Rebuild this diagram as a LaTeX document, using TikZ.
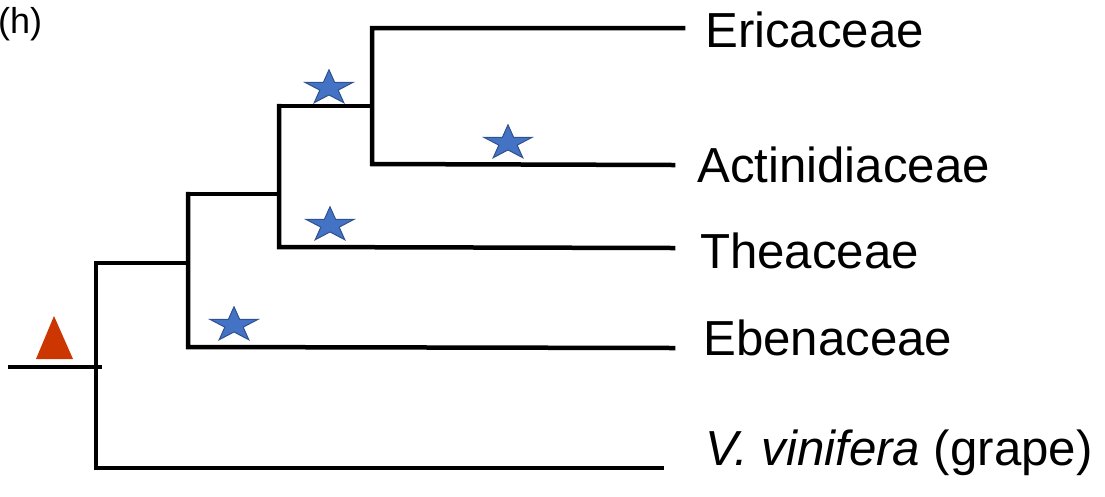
\documentclass[tikz,border=0pt]{standalone}
\usepackage{fontspec}
\setmainfont{Liberation Sans}
\definecolor{branchblack}{RGB}{0,0,0}
\definecolor{starfill}{RGB}{68,114,196}
\definecolor{starline}{RGB}{47,82,143}
\definecolor{trired}{RGB}{204,54,0}
\begin{document}
\begin{tikzpicture}[x=1pt,y=-1pt,
  branch/.style={draw=branchblack,line width=4.5pt,line cap=rect,line join=miter},
  taxon/.style={anchor=base west,inner sep=0pt,font=\fontsize{49.2}{58}\selectfont},
  panel/.style={anchor=base west,inner sep=0pt,font=\fontsize{36}{42}\selectfont},
  pics/dupstar/.style={code={
    \filldraw[fill=starfill,draw=starline,line width=1pt,line join=miter]
      (-90:1) \foreach \a/\r in {1/0.382,2/1,3/0.382,4/1,5/0.382,6/1,7/0.382,8/1,9/0.382}
      {-- (-90+\a*36:\r)} -- cycle;}}]
\useasboundingbox (0,0) rectangle (1105,496);

% panel label
\node[panel] (plabel) at (-2,33) {(h)};

% internal nodes of the tree
\coordinate (stem)  at (10,367);
\coordinate (r)     at (96,367);
\coordinate (rtop)  at (96,263);
\coordinate (rbot)  at (96,468);
\coordinate (n1top) at (188,194);
\coordinate (n1mid) at (188,263);
\coordinate (n1bot) at (188,347);
\coordinate (n2top) at (279,106);
\coordinate (n2mid) at (279,194);
\coordinate (n2bot) at (279,247);
\coordinate (n3top) at (372,28);
\coordinate (n3mid) at (372,106);
\coordinate (n3bot) at (372,164);

% tips
\coordinate (tEri) at (683,28);
\coordinate (tAct) at (673,165);
\coordinate (tThe) at (673,248);
\coordinate (tEbe) at (673,348);
\coordinate (tVit) at (662,468);

% taxon labels
\node[taxon] (Eri) at (705,47)  {Ericaceae};
\node[taxon] (Act) at (697,182) {Actinidiaceae};
\node[taxon] (The) at (700,268) {Theaceae};
\node[taxon] (Ebe) at (703,355) {Ebenaceae};
\node[taxon] (Vit) at (705,465) {\textit{V. vinifera} (grape)};

% branches
\draw[branch] (stem) -- (100,367);
\draw[branch] (rtop) -- (rbot) -- (tVit);
\draw[branch] (rtop) -- (n1mid);
\draw[branch] (n1top) -- (n1bot) -- (tEbe);
\draw[branch] (n1top) -- (n2mid);
\draw[branch] (n2top) -- (n2bot) -- (tThe);
\draw[branch] (n2top) -- (n3mid);
\draw[branch] (tEri) -- (n3top) -- (n3bot) -- (tAct);

% whole-genome triplication marker
\fill[trired] (54,316) -- (73,359) -- (36,359) -- cycle;

% duplication markers
\pic[xscale=25.2,yscale=18.2] at (329,88)  {dupstar};
\pic[xscale=25.2,yscale=18.2] at (508,143) {dupstar};
\pic[xscale=25.2,yscale=18.2] at (330,225) {dupstar};
\pic[xscale=25.2,yscale=18.2] at (234,325) {dupstar};
\end{tikzpicture}
\end{document}
